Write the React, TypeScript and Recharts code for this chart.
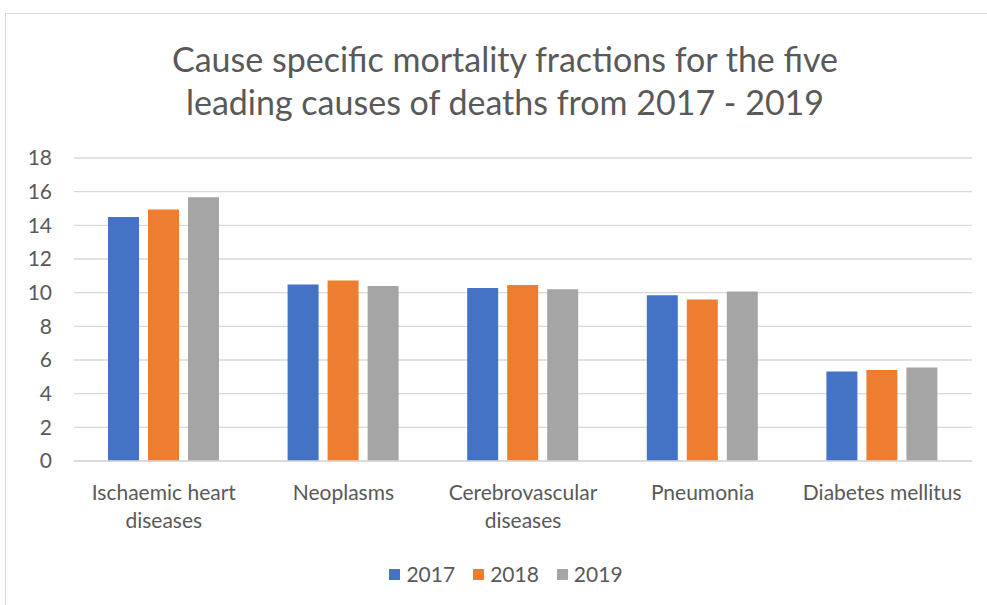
import {
  BarChart,
  Bar,
  XAxis,
  YAxis,
  CartesianGrid,
  Legend,
} from 'recharts'

const causes = [
  'Ischaemic heart diseases',
  'Neoplasms',
  'Cerebrovascular diseases',
  'Pneumonia',
  'Diabetes mellitus',
]
const values2017 = [14.5, 10.48, 10.27, 9.85, 5.32]
const values2018 = [14.94, 10.72, 10.46, 9.6, 5.4]
const values2019 = [15.67, 10.4, 10.2, 10.07, 5.55]
const yTicks = [0, 2, 4, 6, 8, 10, 12, 14, 16, 18]

// Couleurs Office par défaut
const seriesColors = {
  y2017: '#4472C4',
  y2018: '#ED7D31',
  y2019: '#A5A5A5',
}

const FONT = 'Lato, "Open Sans", sans-serif'
const TEXT = '#595959'

const chartData = causes.map((name, i) => ({
  name,
  y2017: values2017[i],
  y2018: values2018[i],
  y2019: values2019[i],
}))

// wrap long category names onto two lines, like Excel does
function wrapLabel(label: string, maxChars = 17): string[] {
  const words = label.split(' ')
  const lines: string[] = []
  let cur = ''
  for (const w of words) {
    const next = cur ? cur + ' ' + w : w
    if (next.length > maxChars && cur) {
      lines.push(cur)
      cur = w
    } else {
      cur = next
    }
  }
  if (cur) lines.push(cur)
  return lines
}

function CategoryTick(props: any) {
  const { x, y, payload } = props
  const lines = wrapLabel(payload.value)
  return (
    <g transform={`translate(${x},${y})`}>
      {lines.map((line, i) => (
        <text
          key={i}
          x={0}
          y={i * 28}
          dy={31}
          textAnchor="middle"
          fill={TEXT}
          style={{ fontSize: '21px', fontFamily: FONT }}
        >
          {line}
        </text>
      ))}
    </g>
  )
}

function LegendContent(props: any) {
  const { payload } = props
  return (
    <div style={{ display: 'flex', justifyContent: 'center', alignItems: 'center' }}>
      {payload.map((entry: any) => (
        <div
          key={entry.value}
          style={{ display: 'flex', alignItems: 'center', margin: '0 9px' }}
        >
          <span
            style={{
              width: 11,
              height: 11,
              background: entry.color,
              display: 'inline-block',
              marginRight: 6,
            }}
          />
          <span style={{ color: TEXT, fontSize: 21, fontFamily: FONT, lineHeight: '24px' }}>
            {entry.value}
          </span>
        </div>
      ))}
    </div>
  )
}

export default function App() {
  return (
    <div
      style={{
        position: 'fixed',
        left: 0,
        top: 0,
        width: 987,
        height: 605,
        overflow: 'hidden',
        background: '#fff',
      }}
    >
      <div
        style={{
          position: 'absolute',
          left: 5,
          top: 13,
          width: 990,
          height: 600,
          border: '1px solid #d9d9d9',
          boxSizing: 'border-box',
        }}
      />
      <div
        style={{
          position: 'absolute',
          left: 0,
          top: 37,
          width: 1010,
          textAlign: 'center',
          color: TEXT,
          fontFamily: FONT,
          fontSize: 34,
          lineHeight: '43px',
        }}
      >
        Cause specific mortality fractions for the five
        <br />
        leading causes of deaths from 2017 - 2019
      </div>
      <div style={{ position: 'absolute', left: 0, top: 0 }}>
        <BarChart
          width={987}
          height={605}
          data={chartData}
          margin={{ top: 158, right: 15, left: 0, bottom: 20 }}
          barSize={31}
          barGap={9}
        >
          <CartesianGrid vertical={false} stroke="#d9d9d9" strokeWidth={1.3} />
          <XAxis
            dataKey="name"
            axisLine={{ stroke: '#d9d9d9', strokeWidth: 1.3 }}
            tickLine={false}
            interval={0}
            tick={<CategoryTick />}
            height={100}
          />
          <YAxis
            domain={[0, 18]}
            ticks={yTicks}
            interval={0}
            axisLine={false}
            tickLine={false}
            width={74}
            tickMargin={16}
            tick={{ fill: TEXT, fontSize: 21, fontFamily: FONT }}
          />
          <Legend
            content={<LegendContent />}
            wrapperStyle={{ left: 0, width: 1012, top: 562 }}
          />
          <Bar dataKey="y2017" name="2017" fill={seriesColors.y2017} isAnimationActive={false} />
          <Bar dataKey="y2018" name="2018" fill={seriesColors.y2018} isAnimationActive={false} />
          <Bar dataKey="y2019" name="2019" fill={seriesColors.y2019} isAnimationActive={false} />
        </BarChart>
      </div>
    </div>
  )
}
